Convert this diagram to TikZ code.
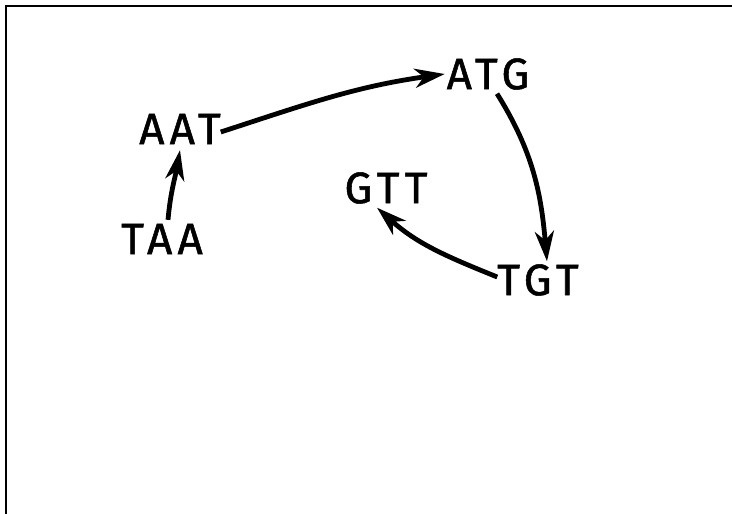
\documentclass[tikz,border=0pt]{standalone}
\usepackage{fontspec}
\setmainfont{Fira Sans}[LetterSpace=12,FakeBold=1.2]
\usetikzlibrary{arrows.meta}

\begin{document}
\begin{tikzpicture}[x=1pt,y=-1pt,
    codon/.style={inner xsep=0pt, inner ysep=4pt, outer sep=0pt,
        font=\fontsize{44}{50}\selectfont},
    link/.style={line width=4.8pt, -{Stealth[length=30pt,width=19pt,inset=9pt]}}
]
\useasboundingbox (0,0) rectangle (732,514);
\draw[line width=1.6pt] (6,514) -- (6,6) -- (732,6);

\node[codon] (taa) at (162,239) {TAA};
\node[codon] (aat) at (180,129) {AAT};
\node[codon] (atg) at (488,74) {ATG};
\node[codon] (tgt) at (538,280) {TGT};
\node[codon] (gtt) at (386,188) {GTT};

\draw[link] ([xshift=6pt]taa.north) to[out=85,in=-100] ([yshift=-2pt]aat.south);
\draw[link] ([yshift=-3pt]aat.east) to[out=18,in=188] ([xshift=-2pt]atg.west);
\draw[link] ([xshift=9pt]atg.south) to[out=-58,in=95] ([xshift=9pt,yshift=-1pt]tgt.north);
\draw[link] ([yshift=3pt]tgt.west) to[out=158,in=-42] ([xshift=-9pt]gtt.south);
\end{tikzpicture}
\end{document}
